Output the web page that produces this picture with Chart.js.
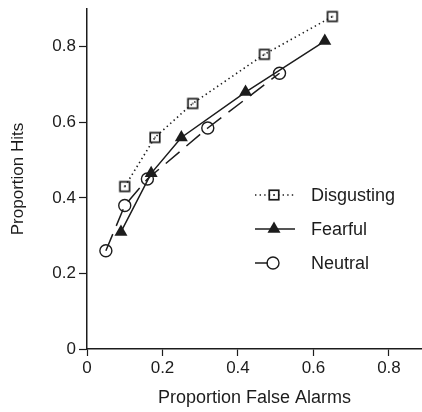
<!DOCTYPE html>
<html>
<head>
<meta charset="utf-8">
<script src="https://cdn.jsdelivr.net/npm/chart.js@4.4.1/dist/chart.umd.min.js"></script>
<style>
  html, body { margin: 0; padding: 0; background: #fff; }
  #roc_Chart { display: block; }
</style>
</head>
<body>
<canvas id="roc_Chart" width="422" height="412"></canvas>
<script>
// 데이터 (proportion false alarms / proportion hits)
const seriesLabels = ['Disgusting', 'Fearful', 'Neutral'];
const disgustingX = [0.10, 0.18, 0.28, 0.47, 0.65];
const disgustingY = [0.43, 0.56, 0.65, 0.78, 0.88];
const fearfulX = [0.09, 0.17, 0.25, 0.42, 0.63];
const fearfulY = [0.31, 0.465, 0.56, 0.68, 0.815];
const neutralX = [0.05, 0.10, 0.16, 0.32, 0.51];
const neutralY = [0.26, 0.38, 0.45, 0.585, 0.73];
const xTicks = [0, 0.2, 0.4, 0.6, 0.8];
const yTicks = [0, 0.2, 0.4, 0.6, 0.8];

const ink = '#1c1c1c';
Chart.defaults.font.family = '"Liberation Sans", Arial, Helvetica, sans-serif';
Chart.defaults.color = ink;

const toPoints = (xs, ys) => xs.map((x, i) => ({ x: x, y: ys[i] }));
const fmt = v => (v === 0 ? '0' : v.toFixed(1));

// open square with a tiny dot in the middle
function squareMarker() {
    const c = document.createElement('canvas');
    c.width = 14;
    c.height = 14;
    const g = c.getContext('2d');
    g.strokeStyle = ink;
    g.lineWidth = 1.7;
    g.strokeRect(2.25, 2.25, 9.5, 9.5);
    g.fillStyle = ink;
    g.fillRect(6.3, 6.3, 1.4, 1.4);
    return c;
}
const squareImg = squareMarker();

function drawMarker(ctx, style, x, y) {
    ctx.save();
    ctx.strokeStyle = ink;
    ctx.fillStyle = ink;
    ctx.lineWidth = 1.4;
    ctx.setLineDash([]);
    if (style === 'square') {
        ctx.drawImage(squareImg, x - 7, y - 7);
    } else if (style === 'triangle') {
        const r = 7.5;
        ctx.beginPath();
        ctx.moveTo(x, y - r);
        ctx.lineTo(x + r * 0.866, y + r * 0.5);
        ctx.lineTo(x - r * 0.866, y + r * 0.5);
        ctx.closePath();
        ctx.fill();
    } else {
        ctx.beginPath();
        ctx.arc(x, y, 6, 0, Math.PI * 2);
        ctx.stroke();
    }
    ctx.restore();
}

// 범례 (inside the plot, right side)
const legendRows = [
    { dash: [1.4, 3.2], width: 1.6, x0: 255, x1: 295, marker: 'square' },
    { dash: [], width: 1.5, x0: 255, x1: 295, marker: 'triangle' },
    { dash: [], width: 1.5, x0: 255, x1: 268, marker: 'circle' }
];
const insideLegend = {
    id: 'insideLegend',
    afterDraw(chart) {
        const ctx = chart.ctx;
        legendRows.forEach((row, i) => {
            const y = 195 + i * 34;
            ctx.save();
            ctx.strokeStyle = ink;
            ctx.lineWidth = row.width;
            ctx.setLineDash(row.dash);
            ctx.beginPath();
            ctx.moveTo(row.x0, y);
            ctx.lineTo(row.x1, y);
            ctx.stroke();
            ctx.restore();
            drawMarker(ctx, row.marker, row.marker === 'circle' ? 273 : 274, y);
            ctx.save();
            ctx.fillStyle = ink;
            ctx.font = '18px "Liberation Sans", Arial, sans-serif';
            ctx.textBaseline = 'middle';
            ctx.textAlign = 'left';
            ctx.fillText(seriesLabels[i], 311, y + 1);
            ctx.restore();
        });
    }
};

const ctxRoc = document.getElementById('roc_Chart').getContext('2d');
new Chart(ctxRoc, {
    type: 'scatter',
    data: {
        datasets: [{
            label: seriesLabels[0],
            data: toPoints(disgustingX, disgustingY),
            showLine: true,
            borderColor: ink,
            borderWidth: 1.6,
            borderDash: [1.4, 3.2],
            pointStyle: squareImg,
            pointBorderWidth: 0,
            backgroundColor: 'rgba(0,0,0,0)'
        }, {
            label: seriesLabels[1],
            data: toPoints(fearfulX, fearfulY),
            showLine: true,
            borderColor: ink,
            borderWidth: 1.5,
            pointStyle: 'triangle',
            pointRadius: 7.5,
            pointBorderWidth: 0,
            pointBackgroundColor: ink
        }, {
            label: seriesLabels[2],
            data: toPoints(neutralX, neutralY),
            showLine: true,
            borderColor: ink,
            borderWidth: 1.5,
            borderDash: [18, 9],
            pointStyle: 'circle',
            pointRadius: 6,
            pointBorderWidth: 1.4,
            pointBorderColor: ink,
            pointBackgroundColor: 'rgba(0,0,0,0)'
        }]
    },
    options: {
        responsive: false,
        animation: false,
        layout: { autoPadding: false, padding: { top: 9, right: 0, bottom: 0, left: 0 } },
        plugins: {
            legend: { display: false },
            tooltip: { enabled: false }
        },
        scales: {
            x: {
                type: 'linear',
                min: 0,
                max: 0.8875,
                afterBuildTicks: s => { s.ticks = xTicks.map(v => ({ value: v })); },
                afterFit: s => { s.height = 63; s.paddingLeft = 0; s.paddingRight = 0; },
                border: { color: ink, width: 1.5 },
                grid: { drawOnChartArea: false, tickLength: 7, tickColor: ink, tickWidth: 1.2 },
                ticks: { callback: fmt, font: { size: 17 }, padding: 2, maxRotation: 0, autoSkip: false },
                title: { display: true, text: 'Proportion False Alarms', font: { size: 18 }, padding: { top: 0, bottom: 3 } }
            },
            y: {
                type: 'linear',
                min: 0,
                max: 0.9,
                afterBuildTicks: s => { s.ticks = yTicks.map(v => ({ value: v })); },
                afterFit: s => { s.width = 87; s.paddingTop = 0; s.paddingBottom = 0; },
                border: { color: ink, width: 1.5 },
                grid: { drawOnChartArea: false, tickLength: 8, tickColor: ink, tickWidth: 1.2 },
                ticks: { callback: fmt, font: { size: 17 }, padding: 3, autoSkip: false },
                title: { display: true, text: 'Proportion Hits', font: { size: 17 }, padding: { top: 8, bottom: 0 } }
            }
        }
    },
    plugins: [insideLegend]
});
</script>
</body>
</html>
